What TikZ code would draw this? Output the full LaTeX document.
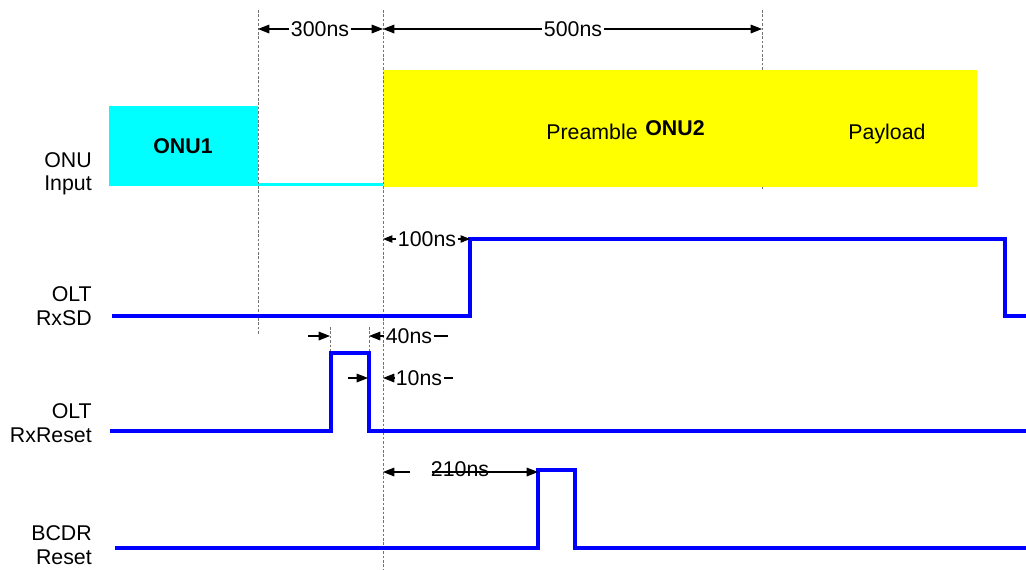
\documentclass[tikz,border=0pt]{standalone}
\usepackage{fontspec}
\setmainfont{Liberation Sans}
\usetikzlibrary{arrows.meta}
\definecolor{onucyan}{RGB}{0,255,255}
\definecolor{onuyellow}{RGB}{255,255,0}
\definecolor{sigblue}{RGB}{0,0,255}

\begin{document}
\begin{tikzpicture}[x=0.75pt, y=-0.75pt, font=\fontsize{16}{19}\selectfont,
  wave/.style={draw=sigblue, line width=2.5pt},
  guide/.style={draw=black!55, dash pattern=on 2pt off 1.3pt, line width=0.7pt},
  dim/.style={-{Triangle[length=8.5pt,width=6.5pt]}, line width=0.8pt},
  dimsmall/.style={-{Triangle[length=7pt,width=5.5pt]}, line width=0.8pt},
  dimtext/.style={inner sep=1pt},
  siglabel/.style={anchor=base east, inner sep=0pt}]

  \useasboundingbox (0,0) rectangle (1026,569);

  % Time marks
  \coordinate (tA) at (258,29);
  \coordinate (tB) at (383,29);
  \coordinate (tC) at (762,29);

  % Guide behind the burst
  \draw[guide] (762,10) -- (762,189);

  % ONU bursts
  \fill[onucyan] (109,106) rectangle (258,186);
  \draw[onucyan, line width=2.3pt] (258,184.5) -- (383,184.5);
  \fill[onuyellow] (383,70) rectangle (977,187);
  \node[anchor=base, inner sep=0pt, font=\fontsize{16}{19}\selectfont\bfseries] (onu1) at (183,153) {ONU1};
  \node[anchor=base, inner sep=0pt] (pre) at (592,139) {Preamble};
  \node[anchor=base, inner sep=0pt, font=\fontsize{16}{19}\selectfont\bfseries] (onu2) at (675,135) {ONU2};
  \node[anchor=base, inner sep=0pt] (pay) at (887,139) {Payload};

  % Guides
  \draw[guide] (258,10) -- (258,335);
  \draw[guide] (383,10) -- (383,569);
  \draw[guide] (330,327) -- (330,353);
  \draw[guide] (369,327) -- (369,353);

  % Signal names
  \node[siglabel] (n1a) at (92,167) {ONU};
  \node[siglabel] (n1b) at (92,190) {Input};
  \node[siglabel] (n2a) at (92,301) {OLT};
  \node[siglabel] (n2b) at (92,325) {RxSD};
  \node[siglabel] (n3a) at (92,418) {OLT};
  \node[siglabel] (n3b) at (92,442) {RxReset};
  \node[siglabel] (n4a) at (92,540) {BCDR};
  \node[siglabel] (n4b) at (92,564) {Reset};

  % Waveforms
  \draw[wave] (112,316) -- (470,316) -- (470,239) -- (1005,239) -- (1005,316) -- (1026,316);
  \draw[wave] (110,431) -- (331,431) -- (331,353) -- (369,353) -- (369,431) -- (1026,431);
  \draw[wave] (115,548) -- (538,548) -- (538,470) -- (575,470) -- (575,548) -- (1026,548);

  % 300ns and 500ns
  \node[dimtext] (d300) at (320,29) {300ns};
  \draw[dim] (d300) -- (tA);
  \draw[dim] (d300) -- (tB);
  \node[dimtext] (d500) at (573,29) {500ns};
  \draw[dim] (d500) -- (tB);
  \draw[dim] (d500) -- (tC);

  % 100ns
  \coordinate (r100a) at (383,239);
  \coordinate (r100b) at (470,239);
  \node[dimtext] (d100) at (427,239) {100ns};
  \draw[dimsmall] (d100) -- (r100a);
  \draw[dimsmall] (d100) -- (r100b);

  % 40ns
  \coordinate (s40) at (308,336);
  \coordinate (p40l) at (330,336);
  \coordinate (p40r) at (369,336);
  \coordinate (e40) at (448,336);
  \node[dimtext] (d40) at (409,336) {40ns};
  \draw[dim] (s40) -- (p40l);
  \draw[dim] (d40) -- (p40r);
  \draw[line width=0.8pt] (d40) -- (e40);

  % 10ns
  \coordinate (s10) at (348,378);
  \coordinate (p10l) at (368,378);
  \coordinate (p10r) at (383,378);
  \coordinate (e10) at (453,378);
  \node[dimtext] (d10) at (419,378) {10ns};
  \draw[dim] (s10) -- (p10l);
  \draw[dim] (d10) -- (p10r);
  \draw[line width=0.8pt] (d10) -- (e10);

  % 210ns
  \coordinate (m210a) at (410,472);
  \coordinate (m210b) at (432,472);
  \coordinate (p210l) at (383,472);
  \coordinate (p210r) at (538,472);
  \draw[dim] (m210a) -- (p210l);
  \draw[dim] (m210b) -- (p210r);
  \node[dimtext] (d210) at (460,469) {210ns};

\end{tikzpicture}
\end{document}
